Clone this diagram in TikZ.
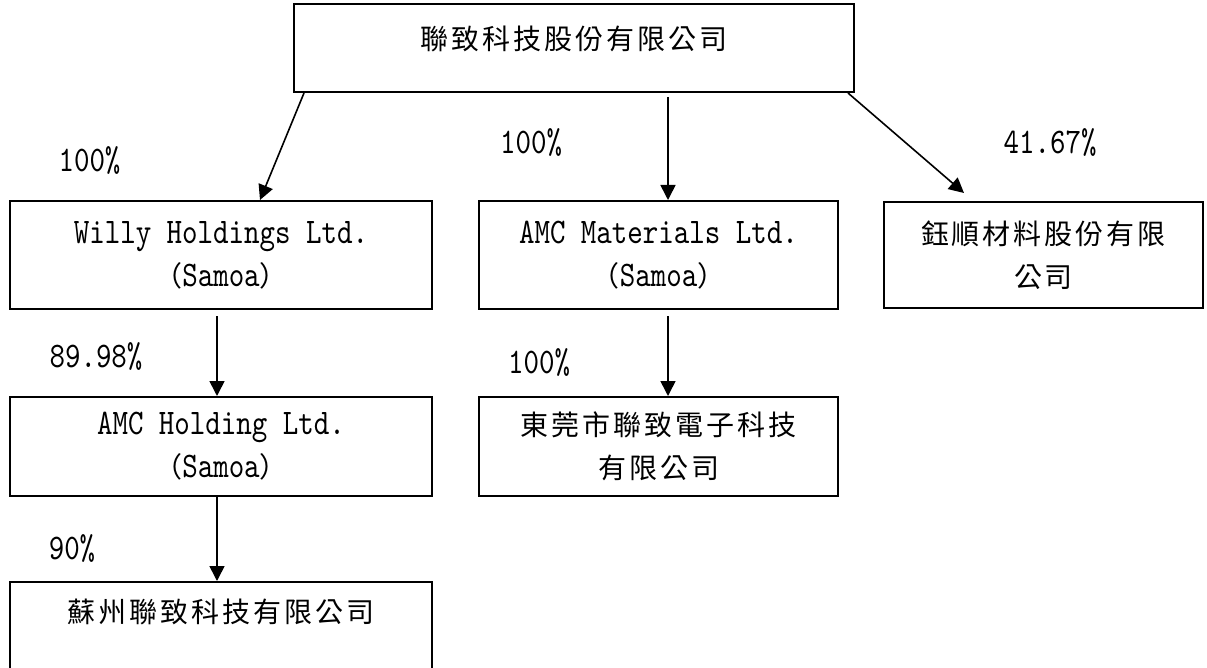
\documentclass[tikz,border=0pt]{standalone}
\usepackage{fontspec}
\newfontfamily\cjk{Noto Sans CJK TC}[LetterSpace=10.7]
\newfontfamily\mono{lmmono10-regular.otf}[FakeStretch=0.82]
\newcommand\zhf{\cjk\fontsize{28}{43}\selectfont}
\newcommand\latf{\mono\fontsize{36}{43}\selectfont}
\usetikzlibrary{arrows.meta}

\begin{document}
\begin{tikzpicture}[
		x=1pt, y=1pt,
		node distance=191.5pt,
		>={Triangle[length=15pt,width=15pt]},
		compbox/.style={draw, line width=2pt, inner sep=0pt, align=center},
		pct/.style={font=\latf, inner sep=0pt},
		own/.style={->, line width=1.6pt}
		]
		\useasboundingbox (0,0) rectangle (1207,-668);

		\node[compbox, minimum width=560pt, minimum height=88pt, text depth=20pt,
		font=\zhf](P0) at (574,-48){聯致科技股份有限公司};

		\node[compbox, minimum width=422pt, minimum height=108pt, font=\latf,
		below of = P0, xshift = -353pt, yshift = -15.5pt](S1){Willy Holdings Ltd.\\{\zhf （}Samoa{\zhf ）}};
		\node[compbox, minimum width=359pt, minimum height=108pt, font=\latf,
		right of = S1, xshift = 246pt](S2){AMC Materials Ltd.\\{\zhf （}Samoa{\zhf ）}};
		\node[compbox, minimum width=319pt, minimum height=106pt, font=\zhf,
		right of = S2, xshift = 193.5pt](S3){鈺順材料股份有限\\公司};

		\node[compbox, minimum width=422pt, minimum height=99pt, font=\latf,
		below of = S1](S4){AMC Holding Ltd.\\{\zhf （}Samoa{\zhf ）}};
		\node[compbox, minimum width=359pt, minimum height=99pt, font=\zhf,
		below of = S2](S5){東莞市聯致電子科技\\有限公司};
		\node[compbox, minimum width=422pt, minimum height=90pt, text depth=32pt,
		font=\zhf, below of = S4, yshift = 11pt](S6){蘇州聯致科技有限公司};

		\draw[own] ([xshift=11pt]P0.south west) --([xshift=39pt]S1.north) node [pct, midway,
		xshift = -192.5pt, yshift = -14pt](L1){100\%};
		\draw[own] ([xshift=94pt, yshift=-4pt]P0.south) --([xshift=9.5pt]S2.north) node [pct, midway,
		xshift = -137pt, yshift = 5.5pt](L2){100\%};
		\draw[own] ([xshift=-7pt]P0.south east) --([xshift=81pt, yshift=8pt]S3.north west) node [pct, midway,
		xshift = 144pt](L3){41.67\%};
		\draw[own] ([xshift=-4pt, yshift=-6pt]S1.south) --([xshift=-4pt]S4.north) node [pct, midway,
		xshift = -121pt, yshift = -1pt](L4){89.98\%};
		\draw[own] ([xshift=-4pt]S4.south) --([xshift=-4pt]S6.north) node [pct, midway,
		xshift = -145pt, yshift = -9pt](L5){90\%};
		\draw[own] ([xshift=9.5pt, yshift=-6pt]S2.south) --([xshift=9.5pt]S5.north) node [pct, midway,
		xshift = -129pt, yshift = -7pt](L6){100\%};

	\end{tikzpicture}
\end{document}
